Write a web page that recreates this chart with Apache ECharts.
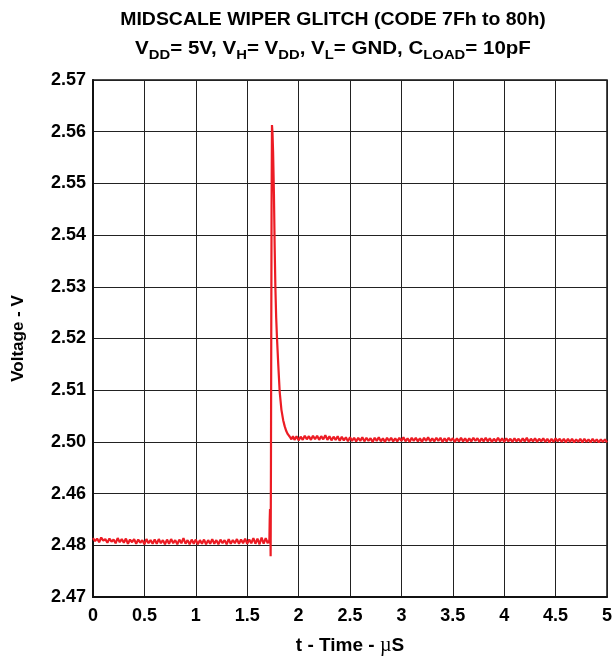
<!DOCTYPE html>
<html>
<head>
<meta charset="utf-8">
<script src="https://cdn.jsdelivr.net/npm/echarts@6/dist/echarts.min.js"></script>
<style>
  html, body { margin: 0; padding: 0; background: #fff; }
  #chart { width: 616px; height: 656px; }
</style>
</head>
<body>
<div id="chart"></div>
<script>
// Wiper output before the code change, sampled every 0.02 µs from t = 0 to 1.70 µs
const BASE_STEP = 0.02;
const baselineVolts = [
  2.4814, 2.4808, 2.4813, 2.4806, 2.4815, 2.4809, 2.4812, 2.4805, 2.4813, 2.4807,
  2.4811, 2.4804, 2.4814, 2.4806, 2.4812, 2.4805, 2.4813, 2.4803, 2.4811, 2.4806,
  2.4812, 2.4803, 2.4811, 2.4805, 2.4810, 2.4802, 2.4812, 2.4804, 2.4810, 2.4803,
  2.4811, 2.4803, 2.4812, 2.4804, 2.4810, 2.4802, 2.4811, 2.4803, 2.4812, 2.4804,
  2.4810, 2.4802, 2.4811, 2.4804, 2.4814, 2.4803, 2.4810, 2.4802, 2.4811, 2.4803,
  2.4811, 2.4802, 2.4810, 2.4803, 2.4811, 2.4802, 2.4810, 2.4803, 2.4812, 2.4803,
  2.4810, 2.4802, 2.4811, 2.4804, 2.4810, 2.4802, 2.4812, 2.4803, 2.4810, 2.4804,
  2.4812, 2.4803, 2.4811, 2.4804, 2.4813, 2.4803, 2.4811, 2.4804, 2.4814, 2.4803,
  2.4813, 2.4802, 2.4815, 2.4803, 2.4814, 2.4804
];

// The glitch itself, captured at finer time resolution
const glitchTimes = [
  1.705, 1.712, 1.716, 1.719, 1.722, 1.725, 1.728, 1.731, 1.734, 1.737,
  1.741, 1.746, 1.752, 1.760, 1.767, 1.774, 1.782, 1.790, 1.802, 1.816,
  1.833, 1.850, 1.865, 1.880, 1.895, 1.914, 1.930, 1.945
];
const glitchVolts = [
  2.4809, 2.4804, 2.4812, 2.4850, 2.4870, 2.4845, 2.4779, 2.4950, 2.5200, 2.5450,
  2.5613, 2.5598, 2.5560, 2.5480, 2.5380, 2.5300, 2.5240, 2.5200, 2.5150, 2.5097,
  2.5062, 2.5042, 2.5030, 2.5021, 2.5015, 2.5010, 2.5005, 2.5011
];

// Settled output after the change, sampled every 0.02 µs from t = 1.96 to 5.00 µs
const SETTLED_START = 1.96;
const settledVolts = [
  2.5004, 2.5011, 2.5003, 2.5010, 2.5004, 2.5012, 2.5005, 2.5011, 2.5004, 2.5012,
  2.5005, 2.5012, 2.5004, 2.5011, 2.5005, 2.5013, 2.5004, 2.5011, 2.5003, 2.5010,
  2.5004, 2.5011, 2.5002, 2.5010, 2.5003, 2.5009, 2.5001, 2.5009, 2.5002, 2.5008,
  2.5001, 2.5008, 2.5002, 2.5009, 2.5001, 2.5008, 2.5002, 2.5007, 2.5000, 2.5008,
  2.5002, 2.5009, 2.5001, 2.5007, 2.5000, 2.5008, 2.5002, 2.5008, 2.5001, 2.5007,
  2.5001, 2.5008, 2.5002, 2.5009, 2.5001, 2.5007, 2.5000, 2.5008, 2.5002, 2.5008,
  2.5001, 2.5007, 2.5000, 2.5008, 2.5002, 2.5009, 2.5001, 2.5007, 2.5001, 2.5008,
  2.5002, 2.5008, 2.5000, 2.5007, 2.5001, 2.5008, 2.5002, 2.5007, 2.5000, 2.5007,
  2.5001, 2.5008, 2.5001, 2.5007, 2.5000, 2.5007, 2.5001, 2.5008, 2.5002, 2.5007,
  2.5000, 2.5007, 2.5001, 2.5008, 2.5001, 2.5007, 2.5000, 2.5006, 2.5001, 2.5008,
  2.5001, 2.5007, 2.5000, 2.5007, 2.5001, 2.5006, 2.5000, 2.5007, 2.5001, 2.5006,
  2.5000, 2.5007, 2.5001, 2.5008, 2.5000, 2.5006, 2.5001, 2.5007, 2.5000, 2.5006,
  2.5001, 2.5007, 2.5000, 2.5006, 2.4999, 2.5006, 2.5000, 2.5007, 2.5001, 2.5006,
  2.5000, 2.5006, 2.4999, 2.5006, 2.5000, 2.5006, 2.4999, 2.5005, 2.5000, 2.5006,
  2.4999, 2.5006, 2.5000, 2.5005, 2.4999, 2.5006, 2.5000, 2.5005, 2.4999, 2.5005,
  2.5000, 2.5005, 2.4999
];

// Axis tick labels, bottom to top / left to right
const yTickLabels = ['2.47', '2.48', '2.46', '2.50', '2.51', '2.52', '2.53', '2.54', '2.55', '2.56', '2.57'];
const xTickLabels = ['0', '0.5', '1', '1.5', '2', '2.5', '3', '3.5', '4', '4.5', '5'];

const Y_MIN = 2.47, Y_MAX = 2.57, Y_STEP = 0.01;
const X_MIN = 0, X_MAX = 5, X_STEP = 0.5;

// Assemble the trace as [time, volts] pairs
const trace = [];
baselineVolts.forEach((v, i) => trace.push([+(i * BASE_STEP).toFixed(3), v]));
glitchTimes.forEach((t, i) => trace.push([t, glitchVolts[i]]));
settledVolts.forEach((v, i) => trace.push([+(SETTLED_START + i * BASE_STEP).toFixed(3), v]));

const FONT = 'Liberation Sans, Arial, sans-serif';
const chart = echarts.init(document.getElementById('chart'), null, { renderer: 'canvas' });

// Normal and subscript runs of the second title line
const m = { fontFamily: FONT, fontWeight: 'bold', fontSize: 18, lineHeight: 22, verticalAlign: 'top', fill: '#000' };
const s = { fontFamily: FONT, fontWeight: 'bold', fontSize: 13, lineHeight: 22, verticalAlign: 'bottom', fill: '#000' };

chart.setOption({
  animation: false,
  backgroundColor: '#fff',
  grid: {
    left: 93, right: 9, top: 80, bottom: 59,
    containLabel: false,
    outerBoundsMode: 'none',
    show: true,
    borderColor: '#111',
    borderWidth: 1.5
  },
  graphic: [
    {
      type: 'text', x: 333, y: 11, scaleX: 1.08,
      style: {
        text: 'MIDSCALE WIPER GLITCH (CODE 7Fh to 80h)',
        font: 'bold 18px ' + FONT, fill: '#000', align: 'center', verticalAlign: 'top'
      }
    },
    {
      type: 'text', x: 333, y: 40, scaleX: 1.14,
      style: {
        text: '{m|V}{s|DD}{m|= 5V, V}{s|H}{m|= V}{s|DD}{m|, V}{s|L}{m|= GND, C}{s|LOAD}{m|= 10pF}',
        align: 'center', verticalAlign: 'top',
        rich: { m: m, s: s }
      }
    }
  ],
  xAxis: {
    type: 'value',
    min: X_MIN, max: X_MAX, interval: X_STEP,
    name: '{a|t - Time - }{u|µ}{a|S}',
    nameLocation: 'middle',
    nameGap: 39,
    nameTextStyle: {
      rich: {
        a: { fontFamily: FONT, fontWeight: 'bold', fontSize: 19, color: '#000' },
        u: { fontFamily: 'Liberation Serif, serif', fontWeight: 'normal', fontSize: 20, color: '#000' }
      }
    },
    axisLine: { show: true, lineStyle: { color: '#111', width: 2 } },
    axisTick: { show: false },
    splitLine: { show: true, lineStyle: { color: '#222', width: 1 } },
    axisLabel: {
      margin: 10,
      fontFamily: FONT, fontWeight: 'bold', fontSize: 18, color: '#000',
      formatter: v => xTickLabels[Math.round((v - X_MIN) / X_STEP)]
    }
  },
  yAxis: {
    type: 'value',
    min: Y_MIN, max: Y_MAX, interval: Y_STEP,
    name: 'Voltage - V',
    nameLocation: 'middle',
    nameRotate: 90,
    nameGap: 66,
    nameTextStyle: { fontFamily: FONT, fontWeight: 'bold', fontSize: 17, color: '#000' },
    axisLine: { show: true, lineStyle: { color: '#111', width: 2 } },
    axisTick: { show: false },
    splitLine: { show: true, lineStyle: { color: '#222', width: 1 } },
    axisLabel: {
      margin: 7,
      fontFamily: FONT, fontWeight: 'bold', fontSize: 18, color: '#000',
      formatter: v => yTickLabels[Math.round((v - Y_MIN) / Y_STEP)]
    }
  },
  series: [{
    type: 'line',
    data: trace,
    showSymbol: false,
    symbol: 'none',
    lineStyle: { color: '#ec1c24', width: 2.2 },
    emphasis: { disabled: true }
  }]
});
</script>
</body>
</html>
